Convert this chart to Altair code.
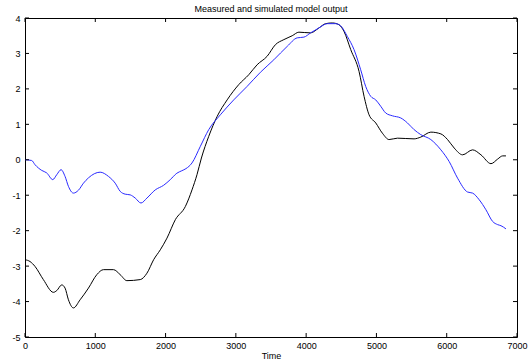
import altair as alt
import pandas as pd

# Time samples and outputs for the two series
t_measured = [0, 71, 143, 261, 404, 452, 523, 570, 618, 689, 784, 903, 1022, 1117,
              1259, 1354, 1449, 1640, 1735, 1830, 1925, 2020, 2139, 2281, 2376, 2447,
              2510, 2614, 2733, 2876, 3041, 3184, 3302, 3445, 3564, 3683, 3802, 3897,
              4063, 4182, 4277, 4372, 4467, 4539, 4634, 4753, 4824, 4895, 4990, 5085,
              5180, 5299, 5536, 5631, 5774, 5917, 6012, 6107, 6226, 6368, 6487, 6630,
              6725, 6796, 6843]
y_measured = [-2.82, -2.87, -3.01, -3.38, -3.74, -3.69, -3.53, -3.62, -3.95, -4.18,
              -3.95, -3.62, -3.24, -3.10, -3.10, -3.24, -3.41, -3.38, -3.20, -2.82,
              -2.54, -2.21, -1.69, -1.32, -0.85, -0.42, 0.05, 0.66, 1.22, 1.69, 2.12,
              2.40, 2.68, 2.92, 3.25, 3.39, 3.50, 3.60, 3.58, 3.72, 3.84, 3.86, 3.81,
              3.62, 3.11, 2.49, 1.79, 1.27, 1.04, 0.75, 0.57, 0.61, 0.59, 0.64, 0.78,
              0.73, 0.57, 0.33, 0.14, 0.28, 0.14, -0.11, 0.02, 0.11, 0.11]

t_simulated = [0, 95, 143, 238, 309, 395, 452, 513, 570, 618, 689, 760, 832, 903, 1069,
               1188, 1283, 1354, 1426, 1497, 1568, 1650, 1735, 1853, 1972, 2067, 2160,
               2230, 2290, 2376, 2495, 2614, 2780, 2970, 3160, 3350, 3540, 3731, 3873,
               3968, 4063, 4182, 4301, 4420, 4491, 4586, 4681, 4776, 4847, 4919, 4990,
               5061, 5132, 5228, 5346, 5441, 5536, 5631, 5774, 5917, 6035, 6155, 6297,
               6368, 6463, 6558, 6653, 6725, 6772, 6843]
y_simulated = [0.0, -0.02, -0.14, -0.30, -0.37, -0.56, -0.42, -0.28, -0.47, -0.75,
               -0.94, -0.86, -0.66, -0.51, -0.35, -0.47, -0.66, -0.89, -0.97, -0.99,
               -1.08, -1.22, -1.08, -0.85, -0.72, -0.56, -0.38, -0.31, -0.25, -0.09,
               0.38, 0.85, 1.27, 1.69, 2.07, 2.47, 2.82, 3.20, 3.44, 3.46, 3.58, 3.72,
               3.84, 3.84, 3.78, 3.48, 3.11, 2.54, 2.07, 1.79, 1.69, 1.51, 1.32, 1.24,
               1.18, 1.04, 0.85, 0.71, 0.57, 0.28, -0.05, -0.52, -0.91, -0.94, -1.13,
               -1.41, -1.74, -1.83, -1.86, -1.95]

x_ticks = [0, 1000, 2000, 3000, 4000, 5000, 6000, 7000]
y_ticks = [-5, -4, -3, -2, -1, 0, 1, 2, 3, 4]

W, H = 492, 319
TICK = 4
FONT = "Liberation Sans"

lines = pd.concat([
    pd.DataFrame({"t": t_measured, "y": y_measured, "series": "measured"}),
    pd.DataFrame({"t": t_simulated, "y": y_simulated, "series": "simulated"}),
])

x_scale = alt.Scale(domain=[0, 7000], nice=False, zero=False)
y_scale = alt.Scale(domain=[-5, 4], nice=False, zero=False)

# plain ASCII hyphen for negative labels
plain_label = "'' + datum.value"

x_axis = alt.Axis(values=x_ticks, labelExpr=plain_label, tickSize=0, domain=False,
                  grid=False, labelPadding=4, titlePadding=1, labelFlush=False,
                  labelOverlap=False)
y_axis = alt.Axis(values=y_ticks, labelExpr=plain_label, tickSize=0, domain=False,
                  grid=False, labelPadding=5, labelFlush=False, labelOverlap=False)


def xenc(field):
    return alt.X(field, scale=x_scale, axis=x_axis, title="Time")


def yenc(field):
    return alt.Y(field, scale=y_scale, axis=y_axis, title=None)


curves = alt.Chart(lines).mark_line(strokeWidth=1, interpolate="monotone").encode(
    x=xenc("t:Q"),
    y=yenc("y:Q"),
    color=alt.Color("series:N", legend=None,
                    scale=alt.Scale(domain=["measured", "simulated"],
                                    range=["#000000", "#2a2aff"])),
)

xt = pd.DataFrame({"t": x_ticks})
yt = pd.DataFrame({"y": y_ticks})
tick_style = dict(color="#000000", strokeWidth=1)

# inward tick marks on all four sides of the box
x_ticks_bottom = alt.Chart(xt).mark_rule(**tick_style).encode(
    x=xenc("t:Q"), y=alt.value(H), y2=alt.value(H - TICK))
x_ticks_top = alt.Chart(xt).mark_rule(**tick_style).encode(
    x=xenc("t:Q"), y=alt.value(0), y2=alt.value(TICK))
y_ticks_left = alt.Chart(yt).mark_rule(**tick_style).encode(
    y=yenc("y:Q"), x=alt.value(0), x2=alt.value(TICK))
y_ticks_right = alt.Chart(yt).mark_rule(**tick_style).encode(
    y=yenc("y:Q"), x=alt.value(W), x2=alt.value(W - TICK))

chart = alt.layer(
    curves, x_ticks_bottom, x_ticks_top, y_ticks_left, y_ticks_right
).properties(
    width=W, height=H,
    title=alt.TitleParams("Measured and simulated model output", fontSize=9,
                          font=FONT, fontWeight="normal", color="#000000",
                          anchor="middle", offset=0, frame="group"),
    autosize=alt.AutoSizeParams(type="none"),
    padding={"left": 25, "top": 18, "right": 12, "bottom": 24},
    background="white",
).configure_view(
    stroke="#000000", strokeWidth=1
).configure_axis(
    labelFont=FONT, labelFontSize=9, labelColor="#000000",
    titleFont=FONT, titleFontSize=9, titleColor="#000000", titleFontWeight="normal",
)

chart.save("out.html", embed_options={"renderer": "svg", "actions": False})
